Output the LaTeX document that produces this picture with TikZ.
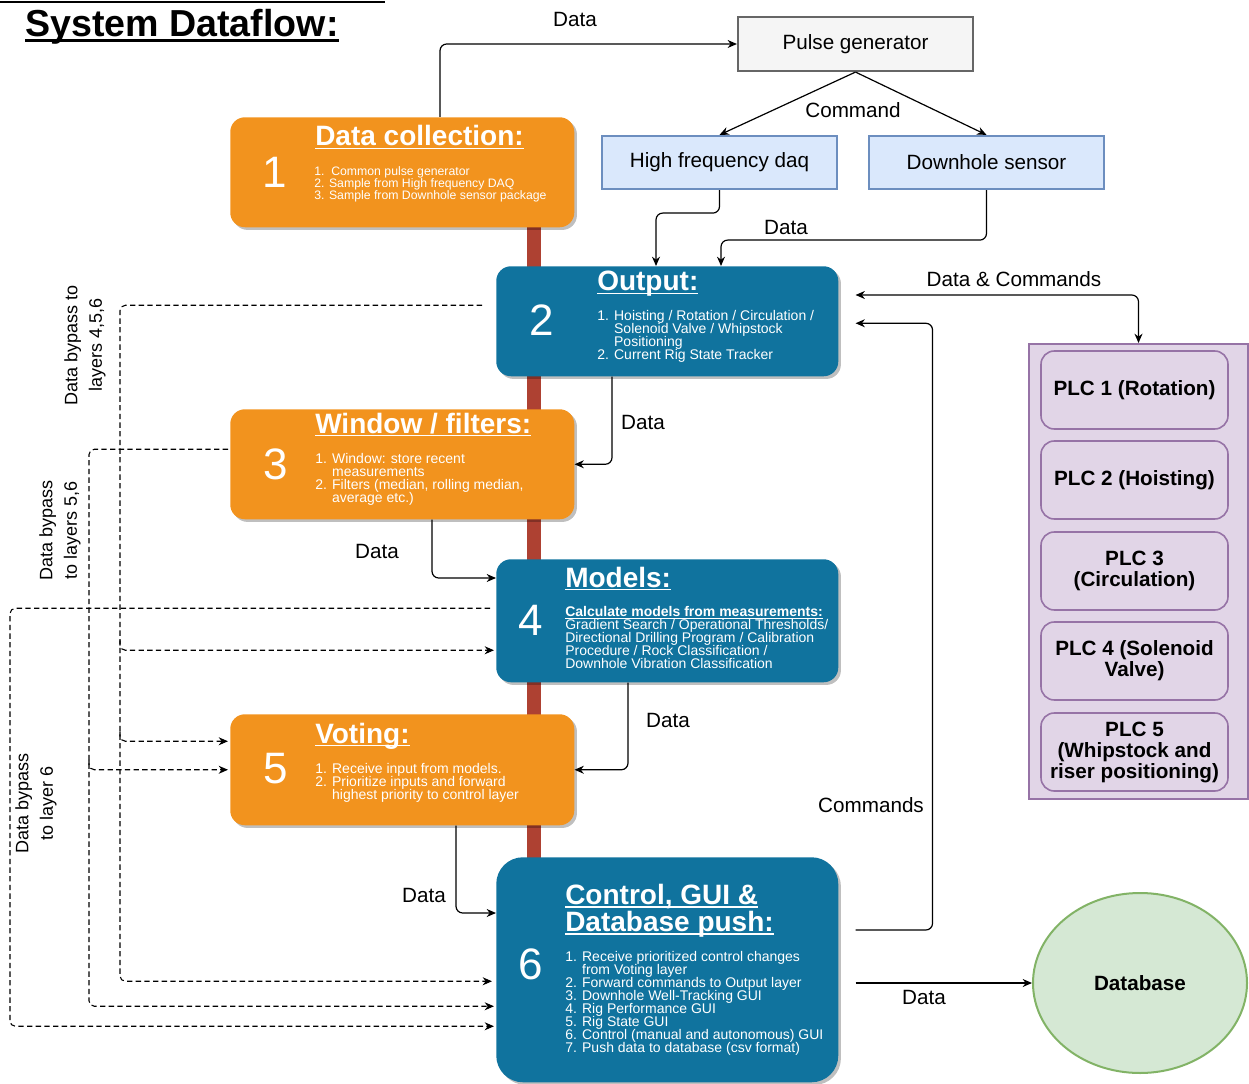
\documentclass[tikz,border=0pt]{standalone}
\usepackage{fontspec}
\setmainfont{Liberation Sans}
\usetikzlibrary{arrows.meta,shadows,calc,shapes.geometric}
\definecolor{orng}{HTML}{F2931E}
\definecolor{blu}{HTML}{10739E}
\definecolor{redbar}{HTML}{AE4132}
\definecolor{pgfill}{HTML}{F5F5F5}
\definecolor{pgdraw}{HTML}{666666}
\definecolor{bfill}{HTML}{DAE8FC}
\definecolor{bdraw}{HTML}{6C8EBF}
\definecolor{pfill}{HTML}{E1D5E7}
\definecolor{pdraw}{HTML}{9673A6}
\definecolor{gfill}{HTML}{D5E8D4}
\definecolor{gdraw}{HTML}{82B366}
\newcommand\myul[1]{\setbox0\hbox{#1}\rlap{\rule[-2.6pt]{\wd0}{1.4pt}}\box0}
\newcommand\tls{\lineskiplimit -20pt\relax}
\begin{document}
\begin{tikzpicture}[x=0.75pt,y=-0.75pt,
  >={Stealth[length=7pt,width=6pt]},
  lbl/.style={font=\fontsize{15.5}{18}\selectfont, inner sep=0pt},
  arr/.style={->, line width=0.9pt, rounded corners=5pt},
  darr/.style={->, line width=0.8pt, rounded corners=4pt, dash pattern=on 4pt off 2.5pt},
  layerO/.style={fill=orng, rounded corners=11pt, minimum width=258pt, minimum height=82.5pt, anchor=north west, inner sep=0pt,
     drop shadow={shadow xshift=2pt, shadow yshift=-2pt, opacity=0.25, fill=black}},
  layerB/.style={fill=blu, rounded corners=11pt, minimum width=256.5pt, anchor=north west, inner sep=0pt,
     drop shadow={shadow xshift=2pt, shadow yshift=-2pt, opacity=0.25, fill=black}},
  num/.style={text=white, font=\fontsize{33}{33}\selectfont, inner sep=0pt},
  ttl/.style={text=white, font=\bfseries\fontsize{21}{20.25}\selectfont\tls, inner sep=0pt, align=left},
  lst/.style={text=white, font=\fontsize{10.5}{9.75}\selectfont\tls, inner sep=0pt, align=left, anchor=north west},
  plcbox/.style={draw=pdraw, fill=pfill, line width=1.2pt, rounded corners=10pt, minimum width=140.25pt, minimum height=58.5pt,
     align=center, inner sep=0pt, font=\bfseries\fontsize{15.5}{15.75}\selectfont\tls},
  sbox/.style={line width=1.4pt, minimum width=176.25pt, minimum height=40pt, inner sep=0pt, font=\fontsize{15.5}{18}\selectfont}
]
\useasboundingbox (0,0) rectangle (1249,1084);

% title
\draw[line width=1.5pt] (0,2) -- (385,2);
\node[inner sep=0pt, anchor=base west, font=\bfseries\fontsize{28.2}{30}\selectfont] (title) at (25,37)
  {\setbox0\hbox{System Dataflow:}\rlap{\rule[-3.5pt]{\wd0}{2.2pt}}\box0};

% red spine
\fill[redbar] (527,222) rectangle (541,862);

% layers
\node[layerO] (dc) at (230,117) {};
\node[layerB, minimum height=82.5pt] (out) at (496,266) {};
\node[layerO] (win) at (230,409) {};
\node[layerB, minimum height=92.25pt] (mod) at (496,559) {};
\node[layerO, minimum height=83.25pt] (vot) at (230,714) {};
\node[layerB, minimum height=168.75pt, rounded corners=20pt] (ctl) at (496,857) {};

% layer 1
\node[num] (n1) at (275,172) {1};
\node[ttl, anchor=base west] (t1) at (315,146) {\myul{Data collection:}};
\node[lst, font=\fontsize{9.2}{9}\selectfont\tls] (l1) at (314,166)
  {1.\ \ Common pulse generator\\2. Sample from High frequency DAQ\\3. Sample from Downhole sensor package};
% layer 2
\node[num] (n2) at (542,320) {2};
\node[ttl, anchor=base west] (t2) at (597,291) {\myul{Output:}};
\node[lst] (l2) at (597,310)
  {1. Hoisting / Rotation / Circulation /\\\hphantom{1. }Solenoid Valve / Whipstock\\\hphantom{1. }Positioning\\2. Current Rig State Tracker};
% layer 3
\node[num] (n3) at (276,464) {3};
\node[ttl, anchor=base west] (t3) at (315,433) {\myul{Window / filters:}};
\node[lst] (l3) at (315,453)
  {1. Window: store recent\\\hphantom{1. }measurements\\2. Filters (median, rolling median,\\\hphantom{2. }average etc.)};
% layer 4
\node[num] (n4) at (531,620) {4};
\node[ttl, anchor=base west] (t4) at (565,587) {\myul{Models:}};
\node[lst] (l4) at (565,606)
  {\underline{\textbf{Calculate models from measurements:}}\\Gradient Search / Operational Thresholds/\\Directional Drilling Program / Calibration\\Procedure / Rock Classification /\\Downhole Vibration Classification};
% layer 5
\node[num] (n5) at (276,769) {5};
\node[ttl, anchor=base west] (t5) at (315,743) {\myul{Voting:}};
\node[lst] (l5) at (315,763)
  {1. Receive input from models.\\2. Prioritize inputs and forward\\\hphantom{2. }highest priority to control layer};
% layer 6
\node[num] (n6) at (531,964) {6};
\node[ttl, anchor=north west] (t6) at (565,884) {\myul{Control, GUI \&}\\\myul{Database push:}};
\node[lst] (l6) at (565,951)
  {1. Receive prioritized control changes\\\hphantom{1. }from Voting layer\\2. Forward commands to Output layer\\3. Downhole Well-Tracking GUI\\4. Rig Performance GUI\\5. Rig State GUI\\6. Control (manual and autonomous) GUI\\7. Push data to database (csv format)};

% top devices
\node[sbox, draw=pgdraw, fill=pgfill, minimum height=40.5pt, line width=1.6pt] (pg) at (855.5,44) {Pulse generator};
\node[sbox, draw=bdraw, fill=bfill] (hf) at (719.5,162.5) {High frequency daq};
\node[sbox, draw=bdraw, fill=bfill] (ds) at (986.5,162.5) {Downhole sensor};

% PLCs
\node[draw=pdraw, fill=pfill, line width=1.5pt, minimum width=164.25pt, minimum height=341.25pt, anchor=north west, inner sep=0pt] (plc) at (1028,343) {};
\node[plcbox] (p1) at (1134.5,390) {PLC 1 (Rotation)};
\node[plcbox] (p2) at (1134.5,480) {PLC 2 (Hoisting)};
\node[plcbox] (p3) at (1134.5,571) {PLC 3\\(Circulation)};
\node[plcbox] (p4) at (1134.5,661) {PLC 4 (Solenoid\\Valve)};
\node[plcbox] (p5) at (1134.5,752) {PLC 5\\(Whipstock and\\riser positioning)};

% database
\node[ellipse, draw=gdraw, fill=gfill, line width=1.5pt, minimum width=160.5pt, minimum height=135pt, inner sep=0pt,
  font=\bfseries\fontsize{15.5}{18}\selectfont] (db) at (1140,983) {Database};

% solid connectors
\draw[arr] ($(dc.north west)+(210,0)$) |- (pg.west);
\draw[arr] (pg.south) -- (hf.north);
\draw[arr] (pg.south) -- (ds.north);
\draw[arr] (hf.south) -- ++(0,23) -| ($(out.north west)+(160,0)$);
\draw[arr] (ds.south) -- ++(0,50) -| ($(out.north west)+(225,0)$);
\draw[arr, <->] ($(out.north east)+(17,29)$) -| (plc.north);
\draw[arr] ($(ctl.north east)+(17,73)$) -- ++(77,0) |- ($(out.east)+(17,2)$);
\draw[arr] ($(ctl.east |- db.west)+(17,0)$) -- (db.west);
\draw[arr] ($(out.south west)+(116,0)$) |- (win.east);
\draw[arr] ($(win.south west)+(202,0)$) |- ($(mod.north west)+(0,19)$);
\draw[arr] ($(mod.south west)+(132,0)$) |- (vot.east);
\draw[arr] ($(vot.south west)+(226,0)$) |- ($(ctl.north west)+(0,56)$);

% dashed bypasses
\coordinate (sA) at ($(out.west)+(-14,-16)$);
\coordinate (sB) at ($(win.west)+(-2,-15)$);
\coordinate (sC) at ($(mod.west)+(-6,-12.5)$);
\coordinate (xA) at (120,0);
\coordinate (xB) at (89,0);
\coordinate (xC) at (10,0);
\coordinate (tA4) at ($(mod.west)+(-2,29.5)$);
\coordinate (tA5) at ($(vot.west)+(-2,-28.5)$);
\coordinate (tA6) at ($(ctl.west)+(-4,11.5)$);
\coordinate (tB5) at ($(vot.west)+(-2,0)$);
\coordinate (tB6) at ($(ctl.west)+(-2,36.5)$);
\coordinate (tC6) at ($(ctl.west)+(-2,56.5)$);
\draw[darr] (sA) -| (xA |- tA6) -- (tA6);
\draw[darr] ($(xA |- tA4)+(0,-10)$) |- (tA4);
\draw[darr] ($(xA |- tA5)+(0,-10)$) |- (tA5);
\draw[darr] (sB) -| (xB |- tB6) -- (tB6);
\draw[darr] ($(xB |- tB5)+(0,-10)$) |- (tB5);
\draw[darr] (sC) -| (xC |- tC6) -- (tC6);

% labels
\node[lbl] (lb1) at (575,19) {Data};
\node[lbl] (lb2) at (853,110) {Command};
\node[lbl] (lb3) at (786,227) {Data};
\node[lbl] (lb4) at (1014,279) {Data \& Commands};
\node[lbl] (lb5) at (643,422) {Data};
\node[lbl] (lb6) at (377,551) {Data};
\node[lbl] (lb7) at (668,720) {Data};
\node[lbl] (lb8) at (871,805) {Commands};
\node[lbl] (lb9) at (424,895) {Data};
\node[lbl] (lb10) at (924,997) {Data};
\node[lbl, rotate=90, align=center, font=\fontsize{13.5}{18.5}\selectfont] (bpA) at (85,345) {Data bypass to\\layers 4,5,6};
\node[lbl, rotate=90, align=center, font=\fontsize{13.5}{18.5}\selectfont] (bpB) at (60,530) {Data bypass\\to layers 5,6};
\node[lbl, rotate=90, align=center, font=\fontsize{13.5}{18.5}\selectfont] (bpC) at (36,803) {Data bypass\\to layer 6};
\end{tikzpicture}
\end{document}
